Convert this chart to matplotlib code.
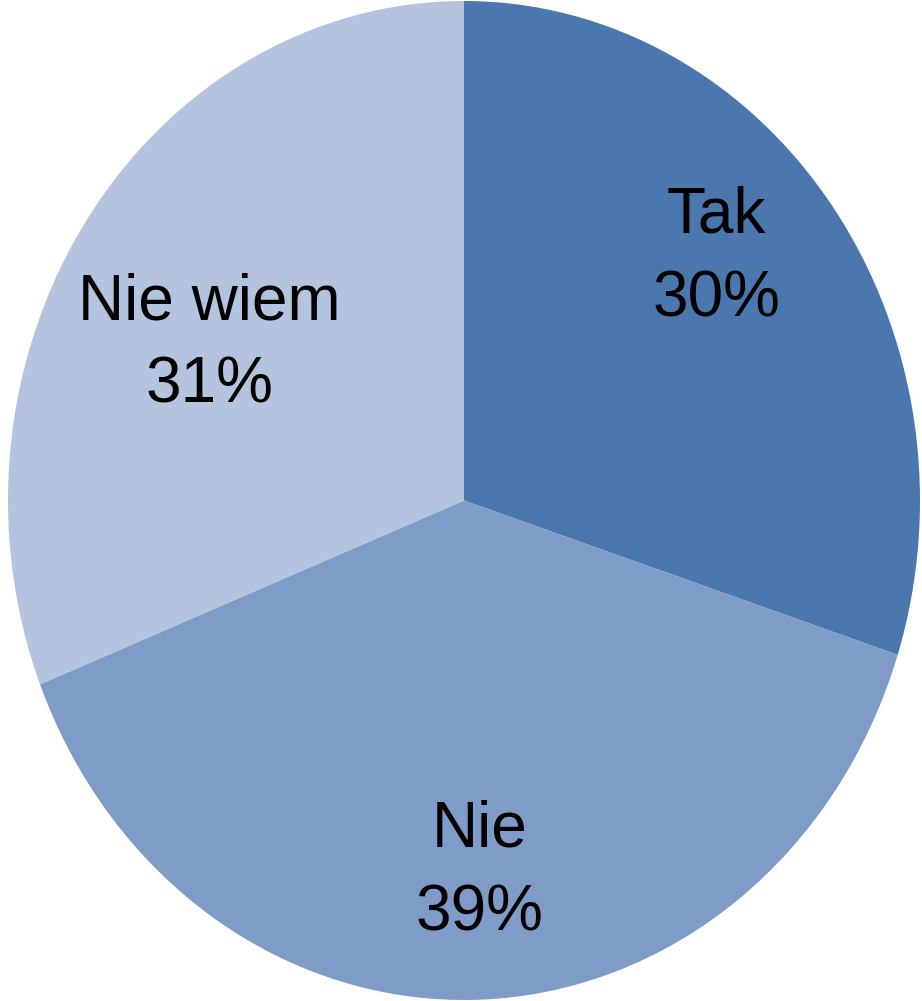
import matplotlib
matplotlib.use('Agg')
import matplotlib.pyplot as plt

# data
labels = ['Tak', 'Nie', 'Nie wiem']
shares = [30, 39, 31]
colors = ['#4A77AE', '#7F9CC8', '#B4C3DE']
# label centres in pie units (x, y)
label_pos = [(0.553, 0.486), (0.035, -0.743), (-0.559, 0.313)]

plt.rcParams['font.family'] = ['Liberation Sans', 'DejaVu Sans']

fig = plt.figure(figsize=(9.22, 10.01), dpi=100)
ax = fig.add_axes([8 / 922, 1 / 1001, 912 / 922, 999 / 1001])

wedges, texts = ax.pie(
    shares,
    labels=[f'{l}\n{s}%' for l, s in zip(labels, shares)],
    colors=colors,
    startangle=90,
    counterclock=False,
    wedgeprops=dict(linewidth=0),
    textprops=dict(fontsize=46, color='black', ha='center', va='center', linespacing=1.5),
)
for t, pos in zip(texts, label_pos):
    t.set_position(pos)
    t.set_horizontalalignment('center')

ax.set_aspect('auto')
ax.set_xlim(-1.0, 1.0)
ax.set_ylim(-1.0, 1.0)

fig.savefig('out.png', dpi=100, facecolor='white')
